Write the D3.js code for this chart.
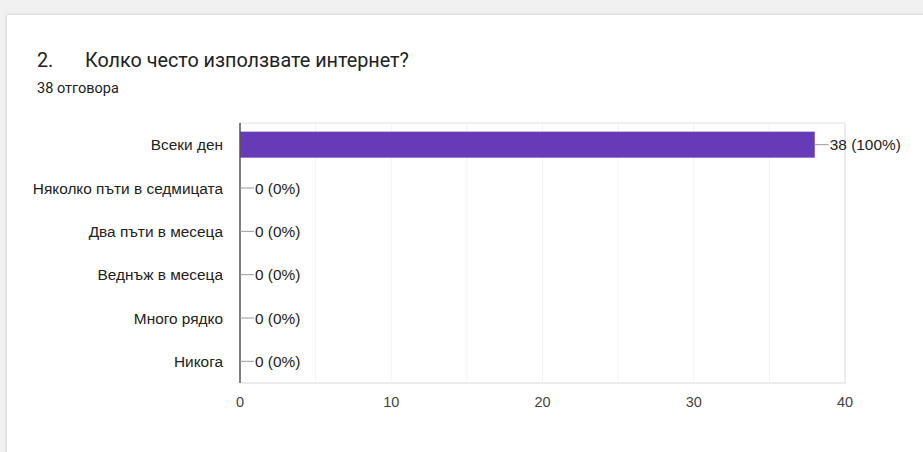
<!DOCTYPE html>
<html><head><meta charset="utf-8">
<script src="https://cdn.jsdelivr.net/npm/d3@7"></script>
<style>
html,body{margin:0;padding:0;background:#f1f1f1;width:923px;height:452px;overflow:hidden;}
#card{position:absolute;left:7px;top:15px;width:930px;height:450px;background:#fff;box-shadow:0 -1px 3px rgba(0,0,0,0.08),-1px 0 2px rgba(0,0,0,0.08);}
svg{position:absolute;left:0;top:0;}
</style></head><body>
<div id="card"></div>
<svg id="chart" width="923" height="452"></svg>
<script>
const categories = ["Всеки ден","Няколко пъти в седмицата","Два пъти в месеца","Веднъж в месеца","Много рядко","Никога"];
const counts = [38,0,0,0,0,0];
const total = 38;
const xTicks = [0,10,20,30,40];
const gridTicks = [5,10,15,20,25,30,35,40];

(function(){
const svg = d3.select("#chart");
const pL=240, pR=845, pT=123, pB=383;
const x = d3.scaleLinear().domain([0,40]).range([pL,pR]);
const y = d3.scaleBand().domain(categories).range([pT,pB]).paddingInner(0.4).paddingOuter(0.2);

svg.append("text").attr("x",37).attr("y",67).attr("font-family","Roboto").attr("font-size",19.8).attr("fill","#202124").text("2.");
svg.append("text").attr("x",85).attr("y",67).attr("font-family","Roboto").attr("font-size",19.8).attr("fill","#202124").text("Колко често използвате интернет?");
svg.append("text").attr("x",37).attr("y",93).attr("font-family","Roboto").attr("font-size",14.5).attr("fill","#202124").text("38 отговора");

svg.append("g").selectAll("line").data(gridTicks).join("line")
  .attr("x1",d=>x(d)).attr("x2",d=>x(d)).attr("y1",pT).attr("y2",pB)
  .attr("stroke",d=>d===40?"#ebebeb":"#f2f2f2").attr("stroke-width",d=>d===40?2:1);
svg.append("line").attr("x1",pL).attr("x2",pR+1).attr("y1",pT).attr("y2",pT).attr("stroke","#f0f0f0").attr("stroke-width",2);
svg.append("line").attr("x1",pL).attr("x2",pR+1).attr("y1",pB).attr("y2",pB).attr("stroke","#ebebeb").attr("stroke-width",2);

svg.append("g").selectAll("rect").data(categories).join("rect")
  .attr("x",x(0)).attr("y",d=>y(d)).attr("height",y.bandwidth())
  .attr("width",(d,i)=>x(counts[i])-x(0)).attr("fill","#673ab7");

svg.append("line").attr("x1",pL).attr("x2",pL).attr("y1",pT).attr("y2",pB).attr("stroke","#555").attr("stroke-width",1.5);

svg.append("g").selectAll("text").data(categories).join("text")
  .attr("x",223).attr("y",d=>y(d)+y.bandwidth()/2).attr("dy","0.36em")
  .attr("text-anchor","end").attr("font-family","Liberation Sans, Arial").attr("font-size",15.4).attr("fill","#222").text(d=>d);

const vg = svg.append("g");
categories.forEach((c,i)=>{
  const xe = x(counts[i]);
  const yc = y(c)+y.bandwidth()/2;
  vg.append("line").attr("x1",xe).attr("x2",xe+14).attr("y1",yc).attr("y2",yc).attr("stroke","#999").attr("stroke-width",1);
  vg.append("text").attr("x",xe+15).attr("y",yc).attr("dy","0.36em")
    .attr("font-family","Liberation Sans, Arial").attr("font-size",15.4).attr("fill","#222")
    .text(counts[i]+" ("+Math.round(counts[i]/total*100)+"%)");
});

svg.append("g").selectAll("text").data(xTicks).join("text")
  .attr("x",d=>x(d)).attr("y",407).attr("text-anchor","middle")
  .attr("font-family","Liberation Sans, Arial").attr("font-size",14.5).attr("fill","#444").text(d=>d);
})();
</script>
</body></html>
